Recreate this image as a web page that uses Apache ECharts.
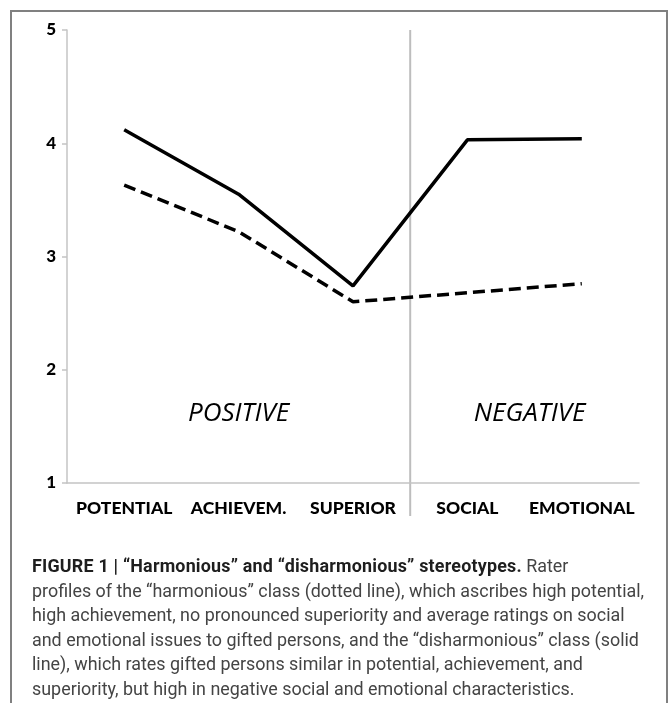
<!DOCTYPE html>
<html><head><meta charset="utf-8">
<script src="https://cdn.jsdelivr.net/npm/echarts@6/dist/echarts.min.js"></script>
<style>
html,body{margin:0;padding:0;background:#fff;width:669px;height:703px;overflow:hidden;}
#frame{position:absolute;left:10px;top:10px;width:658px;height:740px;border:2px solid #808080;box-sizing:border-box;}
#chart{position:absolute;left:0;top:0;width:669px;height:703px;}
#caption{position:absolute;left:32px;top:554px;width:630px;font-family:"Roboto","Liberation Sans",sans-serif;font-size:17.9px;line-height:24.5px;color:#444;white-space:nowrap;}
#caption b{color:#1e1e1e;font-weight:700;letter-spacing:0.2px;}
</style></head>
<body>
<div id="frame"></div>
<div id="chart"></div>
<div id="caption"><b>FIGURE 1 | “Harmonious” and “disharmonious” stereotypes.</b> Rater<br>profiles of the “harmonious” class (dotted line), which ascribes high potential,<br>high achievement, no pronounced superiority and average ratings on social<br>and emotional issues to gifted persons, and the “disharmonious” class (solid<br>line), which rates gifted persons similar in potential, achievement, and<br>superiority, but high in negative social and emotional characteristics.</div>
<script>
const categories = ["POTENTIAL", "ACHIEVEM.", "SUPERIOR", "SOCIAL", "EMOTIONAL"];
const disharmonious = [4.12, 3.55, 2.74, 4.03, 4.04];   // solid line
const harmonious = [3.63, 3.22, 2.60, 2.68, 2.76];      // dashed line
const yTicks = [1, 2, 3, 4, 5];
const groupLabels = ["POSITIVE", "NEGATIVE"];

const chart = echarts.init(document.getElementById('chart'), null, {renderer:'canvas'});
const labelFont = '"Lato","Open Sans",sans-serif';
chart.setOption({
  animation:false,
  grid:{left:67, right:30, top:30, bottom:220, containLabel:false},
  xAxis:{type:'category', data:categories, boundaryGap:true,
    axisLine:{lineStyle:{color:'#c4c4c4', width:1.5}},
    axisTick:{lineStyle:{color:'#c4c4c4', width:1.5}, length:5},
    axisLabel:{interval:0, hideOverlap:false, color:'#000', fontWeight:900, fontSize:17.5, fontFamily:labelFont, margin:16}},
  yAxis:{type:'value', min:yTicks[0], max:yTicks[yTicks.length-1], interval:1,
    splitLine:{show:false},
    axisLine:{show:true, lineStyle:{color:'#c4c4c4', width:1.5}},
    axisTick:{show:true, lineStyle:{color:'#c4c4c4', width:1.5}, length:5},
    axisLabel:{color:'#000', fontWeight:900, fontSize:17, fontFamily:labelFont, margin:11}},
  series:[
    {type:'line', data:disharmonious, symbol:'none', lineStyle:{color:'#000', width:3.5}},
    {type:'line', data:harmonious, symbol:'none', lineStyle:{color:'#000', width:3.5, type:[12,6]}}
  ]
});
// divider between SUPERIOR and SOCIAL and group labels, positioned through the axes
const xa = chart.convertToPixel({xAxisIndex:0}, categories[2]);
const xb = chart.convertToPixel({xAxisIndex:0}, categories[3]);
const xDiv = (xa + xb)/2;
const yTop = chart.convertToPixel({yAxisIndex:0}, yTicks[yTicks.length-1]);
const yBot = chart.convertToPixel({yAxisIndex:0}, yTicks[0]);
const yLab = chart.convertToPixel({yAxisIndex:0}, 1.61);
const xPos = chart.convertToPixel({xAxisIndex:0}, categories[1]);
const xNeg = (chart.convertToPixel({xAxisIndex:0}, categories[3]) + chart.convertToPixel({xAxisIndex:0}, categories[4]))/2 + 5;
chart.setOption({graphic:[
  {type:'line', shape:{x1:xDiv, y1:yTop, x2:xDiv, y2:yBot+33}, style:{stroke:'#bdbdbd', lineWidth:2}, z:0},
  {type:'text', x:xPos, y:yLab, style:{text:groupLabels[0], fill:'#000', font:'italic 26px "Open Sans","Lato",sans-serif', textAlign:'center', textVerticalAlign:'middle'}},
  {type:'text', x:xNeg, y:yLab, style:{text:groupLabels[1], fill:'#000', font:'italic 26px "Open Sans","Lato",sans-serif', textAlign:'center', textVerticalAlign:'middle'}}
]});
</script>
</body></html>
